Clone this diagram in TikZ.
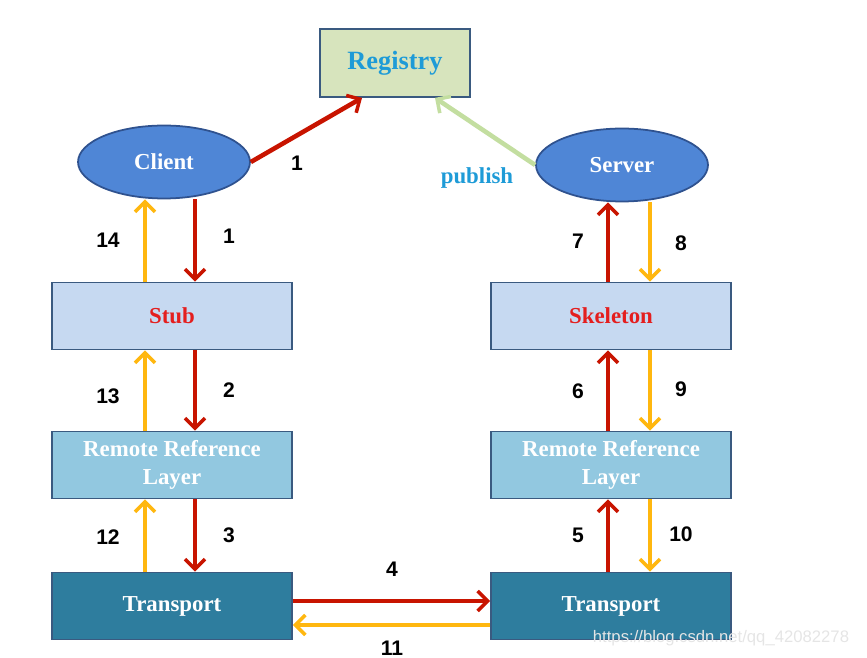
\documentclass[tikz,border=0pt]{standalone}
\usepackage{fontspec}
\setmainfont{Liberation Serif}
\newfontfamily\numfont{Liberation Sans}
\usetikzlibrary{arrows.meta,shapes.geometric}

\definecolor{regfill}{HTML}{D7E4BD}
\definecolor{regtext}{HTML}{1E9BD7}
\definecolor{edge}{HTML}{3A5A80}
\definecolor{ovalfill}{HTML}{4F86D6}
\definecolor{ovaledge}{HTML}{2F528F}
\definecolor{stubfill}{HTML}{C6D9F1}
\definecolor{stubtext}{HTML}{E41E1E}
\definecolor{rrlfill}{HTML}{92C8E0}
\definecolor{transfill}{HTML}{2E7D9E}
\definecolor{callred}{HTML}{C81400}
\definecolor{retorange}{HTML}{FFB70F}
\definecolor{pubgreen}{HTML}{C3DEA0}

\begin{document}
\begin{tikzpicture}[
    x=0.02cm, y=-0.02cm,
    font=\bfseries,
    layer/.style={draw=edge, line width=1pt, minimum width=4.8cm, minimum height=1.34cm, align=center, font=\fontsize{13}{16}\selectfont\bfseries, inner sep=1pt},
    oval/.style={ellipse, draw=ovaledge, line width=1pt, fill=ovalfill, text=white, minimum width=3.44cm, minimum height=1.46cm, inner sep=0pt, font=\fontsize{13}{14}\selectfont\bfseries},
    num/.style={font=\numfont\fontsize{12}{13}\selectfont\bfseries},
    call/.style={-{Straight Barb[length=2mm,width=4mm,line width=2pt]}, line width=2.6pt, draw=callred},
    reply/.style={-{Straight Barb[length=2mm,width=4mm,line width=2pt]}, line width=2.6pt, draw=retorange}
]
\useasboundingbox (0,0) rectangle (867,658);

\node[layer, fill=regfill, text=regtext, minimum width=3cm, minimum height=1.36cm, font=\fontsize{15}{16}\selectfont\bfseries] (registry) at (395,63) {Registry};
\node[oval] (client) at (164,162) {Client};
\node[oval] (server) at (622,165) {Server};

\node[layer, fill=stubfill, text=stubtext] (stub) at (172,316) {Stub};
\node[layer, fill=stubfill, text=stubtext] (skel) at (611,316) {Skeleton};
\node[layer, fill=rrlfill, text=white] (rrlA) at (172,465) {Remote Reference\\Layer};
\node[layer, fill=rrlfill, text=white] (rrlB) at (611,465) {Remote Reference\\Layer};
\node[layer, fill=transfill, text=white] (transA) at (172,606) {Transport};
\node[layer, fill=transfill, text=white] (transB) at (611,606) {Transport};

% registry lookup and publish
\draw[call] (client.east) -- ([xshift=-0.66cm]registry.south);
\draw[-{Straight Barb[length=2mm,width=4mm,line width=2pt]}, line width=2.6pt, draw=pubgreen] (server.west) -- ([xshift=0.8cm]registry.south);
\node[num] (n1a) at (297,163) {1};
\node[font=\fontsize{13}{14}\selectfont\bfseries, text=regtext] (pub) at (477,178) {publish};

% client side
\draw[reply] ([xshift=-0.54cm]stub.north) -- ([xshift=-0.54cm]stub.north |- client.south);
\draw[call] ([xshift=0.46cm]stub.north |- client.south) -- ([xshift=0.46cm]stub.north);
\draw[reply] ([xshift=-0.54cm]rrlA.north) -- ([xshift=-0.54cm]stub.south);
\draw[call] ([xshift=0.46cm]stub.south) -- ([xshift=0.46cm]rrlA.north);
\draw[reply] ([xshift=-0.54cm]transA.north) -- ([xshift=-0.54cm]rrlA.south);
\draw[call] ([xshift=0.46cm]rrlA.south) -- ([xshift=0.46cm]transA.north);

% server side
\draw[call] ([xshift=-0.06cm]skel.north) -- ([xshift=-0.06cm]skel.north |- server.south);
\draw[reply] ([xshift=0.78cm]skel.north |- server.south) -- ([xshift=0.78cm]skel.north);
\draw[call] ([xshift=-0.06cm]rrlB.north) -- ([xshift=-0.06cm]skel.south);
\draw[reply] ([xshift=0.78cm]skel.south) -- ([xshift=0.78cm]rrlB.north);
\draw[call] ([xshift=-0.06cm]transB.north) -- ([xshift=-0.06cm]rrlB.south);
\draw[reply] ([xshift=0.78cm]rrlB.south) -- ([xshift=0.78cm]transB.north);

% network
\draw[call] ([yshift=0.1cm]transA.east) -- ([yshift=0.1cm]transB.west);
\draw[reply] ([yshift=-0.38cm]transB.west) -- ([yshift=-0.38cm]transA.east);

\node[num] (n14) at (108,240) {14};
\node[num] (n1b) at (229,236) {1};
\node[num] (n13) at (108,396) {13};
\node[num] (n2) at (229,390) {2};
\node[num] (n12) at (108,537) {12};
\node[num] (n3) at (229,535) {3};
\node[num] (n7) at (578,241) {7};
\node[num] (n8) at (681,243) {8};
\node[num] (n6) at (578,391) {6};
\node[num] (n9) at (681,389) {9};
\node[num] (n5) at (578,535) {5};
\node[num] (n10) at (681,534) {10};
\node[num] (n4) at (392,569) {4};
\node[num] (n11) at (392,648) {11};

\node[font=\numfont\fontsize{9.5}{11}\selectfont, text=white!80!gray] (mark) at (721,638) {https://blog.csdn.net/qq\_42082278};
\end{tikzpicture}
\end{document}
